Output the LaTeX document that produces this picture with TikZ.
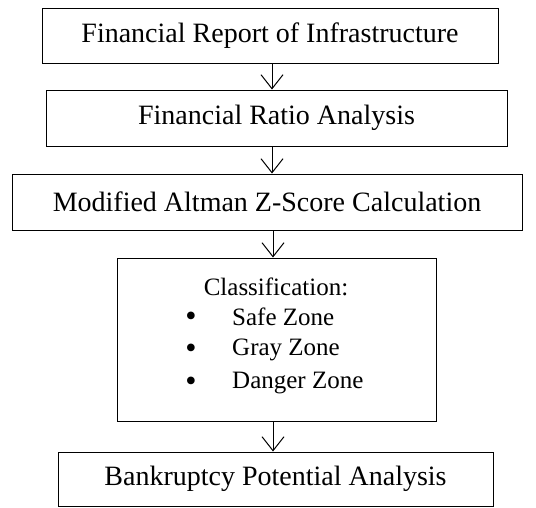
\documentclass[tikz,border=0pt]{standalone}
\usepackage{fontspec}
\setmainfont{Liberation Serif}
\usetikzlibrary{arrows.meta}
\begin{document}
\begin{tikzpicture}[x=1pt,y=-1pt,
  box/.style={draw,line width=1pt,inner sep=0pt},
  conn/.style={line width=1pt,-{Straight Barb[length=14pt,width=22pt,line width=1pt]}},
  big/.style={font=\fontsize{28}{32}\selectfont},
  lst/.style={font=\fontsize{25}{29}\selectfont},
  bul/.style={font=\fontsize{32}{36}\selectfont,inner sep=0pt}]
\useasboundingbox (0,0) rectangle (536,507);
\node[box,minimum width=456pt,minimum height=55pt,big] (b1) at (270,35.5) {Financial Report of Infrastructure};
\node[box,minimum width=461pt,minimum height=56pt,big] (b2) at (276.5,118) {Financial Ratio Analysis};
\node[box,minimum width=510pt,minimum height=56pt,big] (b3) at (267,202) {Modified Altman Z-Score Calculation};
\node[box,minimum width=319pt,minimum height=163pt] (b4) at (276.5,339.5) {};
\node[box,minimum width=435pt,minimum height=54pt,big] (b5) at (275.5,479) {Bankruptcy Potential Analysis};
\node[lst] (t0) at (276,287) {Classification:};
\node[bul] (d1) at (191,319) {\textbullet};
\node[bul] (d2) at (191,351) {\textbullet};
\node[bul] (d3) at (191,384) {\textbullet};
\node[lst,anchor=west,inner sep=0pt] (s1) at (232,317) {Safe Zone};
\node[lst,anchor=west,inner sep=0pt] (s2) at (232,350) {Gray Zone};
\node[lst,anchor=west,inner sep=0pt] (s3) at (232,383) {Danger Zone};
\coordinate (c1) at (272,0);
\coordinate (c2) at (273,0);
\draw[conn] (b1.south -| c1) -- (b2.north -| c1);
\draw[conn] (b2.south -| c1) -- (b3.north -| c1);
\draw[conn] (b3.south -| c2) -- (b4.north -| c2);
\draw[conn] (b4.south -| c2) -- (b5.north -| c2);
\end{tikzpicture}
\end{document}
